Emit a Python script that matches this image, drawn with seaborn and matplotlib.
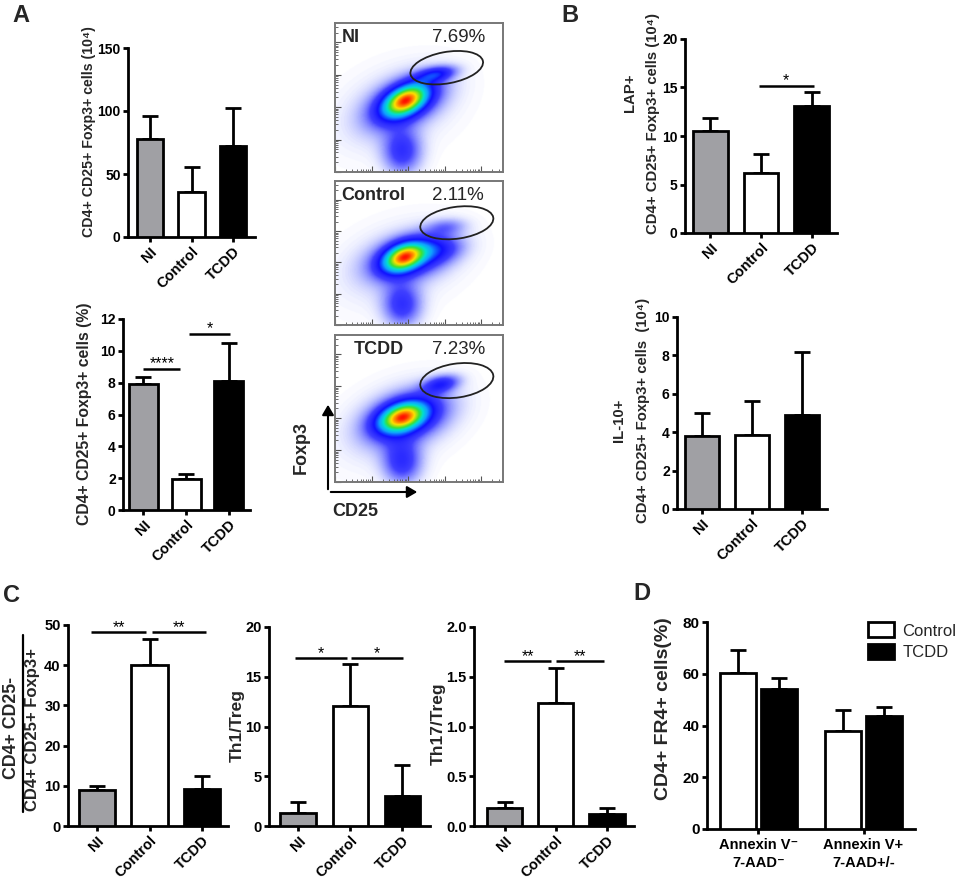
import numpy as np
import pandas as pd
import matplotlib
matplotlib.use("Agg")
import matplotlib.pyplot as plt
import seaborn as sns
from matplotlib.patches import Ellipse
from matplotlib.colors import LinearSegmentedColormap

# ---------------- data ----------------
groups = ["NI", "Control", "TCDD"]
group_colors = ["#a0a0a4", "#ffffff", "#000000"]

treg_count_mean = [77.5, 35.9, 72.4]
treg_count_sem = [18.4, 19.3, 30.3]

treg_pct_mean = [7.92, 1.97, 8.13]
treg_pct_sem = [0.46, 0.31, 2.34]

lap_mean = [10.48, 6.19, 13.13]
lap_sem = [1.38, 1.99, 1.37]

il10_mean = [3.81, 3.84, 4.90]
il10_sem = [1.18, 1.76, 3.27]

ratio_mean = [9.05, 40.0, 9.3]
ratio_sem = [0.83, 6.5, 3.16]

th1_mean = [1.31, 12.06, 3.02]
th1_sem = [1.07, 4.19, 3.14]

th17_mean = [0.18, 1.24, 0.12]
th17_sem = [0.06, 0.345, 0.064]

d_categories = ["Annexin V\u207b\n7-AAD\u207b", "Annexin V+\n7-AAD+/-"]
d_control_mean = [60.4, 38.0]
d_control_sem = [8.7, 8.0]
d_tcdd_mean = [54.2, 43.7]
d_tcdd_sem = [4.0, 3.4]

flow_samples = ["NI", "Control", "TCDD"]
flow_percent = ["7.69%", "2.11%", "7.23%"]
# gaussian components: (cx, cy, sx, sy, rho, weight) in axes units
flow_components = {
    "NI": [(0.42, 0.48, 0.085, 0.07, 0.45, 1.0),
           (0.42, 0.47, 0.14, 0.11, 0.45, 0.35),
           (0.60, 0.655, 0.075, 0.035, 0.4, 0.32),
           (0.40, 0.14, 0.075, 0.10, 0.0, 0.24),
           (0.36, 0.42, 0.24, 0.20, 0.30, 0.05)],
    "Control": [(0.41, 0.47, 0.08, 0.065, 0.35, 1.0),
                (0.45, 0.47, 0.15, 0.10, 0.35, 0.35),
                (0.60, 0.52, 0.10, 0.06, 0.25, 0.18),
                (0.66, 0.68, 0.08, 0.04, 0.2, 0.12),
                (0.40, 0.14, 0.075, 0.10, 0.0, 0.24),
                (0.38, 0.42, 0.25, 0.20, 0.3, 0.05)],
    "TCDD": [(0.40, 0.44, 0.09, 0.065, 0.35, 1.0),
             (0.43, 0.44, 0.15, 0.11, 0.35, 0.38),
             (0.63, 0.665, 0.07, 0.04, 0.35, 0.28),
             (0.40, 0.14, 0.075, 0.10, 0.0, 0.25),
             (0.38, 0.40, 0.24, 0.20, 0.35, 0.05)],
}
flow_gates = {"NI": (0.665, 0.70, 0.44, 0.21, 12),
              "Control": (0.725, 0.71, 0.44, 0.22, 10),
              "TCDD": (0.725, 0.69, 0.44, 0.23, 10)}

# ---------------- style ----------------
sns.set_theme(style="ticks")
plt.rcParams["font.family"] = ["Liberation Sans", "DejaVu Sans"]
plt.rcParams["font.weight"] = "bold"
plt.rcParams["axes.labelweight"] = "bold"

W, H = 957, 885
fig = plt.figure(figsize=(W / 100, H / 100), dpi=100)


def px_axes(l, t, r, b):
    return fig.add_axes([l / W, 1 - b / H, (r - l) / W, (b - t) / H])


def ftext(x, y, s, **kw):
    fig.text(x / W, 1 - y / H, s, **kw)


def style_axes(ax, size=10):
    for s in ["top", "right"]:
        ax.spines[s].set_visible(False)
    for s in ["left", "bottom"]:
        ax.spines[s].set_linewidth(2)
        ax.spines[s].set_color("black")
    ax.tick_params(width=2, length=3.8, pad=1.5, direction="out", labelsize=size,
                   colors="black")
    for lab in ax.get_yticklabels():
        lab.set_fontweight("bold")


def bar_panel(ax, means, sems, xlim, width, ylim, yticks, fmt="{:g}", size=10,
              xsize=10.5):
    df = pd.DataFrame({"group": groups, "value": means})
    sns.barplot(data=df, x="group", y="value", hue="group", palette=group_colors,
                edgecolor="black", linewidth=2, width=width, legend=False,
                errorbar=None, ax=ax, zorder=3)
    ax.errorbar(range(3), means, yerr=[np.zeros(3), sems], fmt="none",
                ecolor="black", elinewidth=2, capsize=6, capthick=2, zorder=2)
    ax.set_xlim(*xlim)
    ax.set_ylim(*ylim)
    ax.set_yticks(yticks)
    ax.set_yticklabels([fmt.format(v) for v in yticks])
    ax.set_xlabel("")
    ax.set_ylabel("")
    ax.set_xticks(range(3))
    ax.set_xticklabels(groups, rotation=45, ha="right", rotation_mode="anchor",
                       fontweight="bold")
    style_axes(ax, size)
    ax.tick_params(axis="x", labelsize=xsize)
    ax.spines["left"].set_bounds(ylim[0], yticks[-1])


def sig(ax, x0, x1, y, label, dy):
    ax.plot([x0, x1], [y, y], color="black", lw=1.8, solid_capstyle="butt",
            clip_on=False)
    ax.text((x0 + x1) / 2, y + dy, label, ha="center", va="bottom",
            fontsize=11.5, fontweight="normal", color="black")


# ---------------- panel A top ----------------
ax = px_axes(128, 48, 255, 237)
bar_panel(ax, treg_count_mean, treg_count_sem, (-0.53, 2.53), 0.63, (0, 150), [0, 50, 100, 150])
ftext(89, 132, "CD4+ CD25+ Foxp3+ cells (10\u2074)", rotation=90, ha="center",
      va="center", fontsize=10.2, fontweight="bold")

# ---------------- panel A bottom ----------------
ax = px_axes(123, 319, 250, 510)
bar_panel(ax, treg_pct_mean, treg_pct_sem, (-0.48, 2.5), 0.68, (0, 12), [0, 2, 4, 6, 8, 10, 12])
sig(ax, 0.0, 0.86, 8.88, "****", -0.15)
sig(ax, 1.08, 2.03, 11.08, "*", -0.15)
ftext(85, 414, "CD4+ CD25+ Foxp3+ cells (%)", rotation=90, ha="center",
      va="center", fontsize=11.3, fontweight="bold")

# ---------------- flow plots ----------------
cmap = LinearSegmentedColormap.from_list(
    "flow", [(0.0, "#ffffff"), (0.015, "#eceeff"), (0.06, "#a8aeff"),
             (0.14, "#4040ff"), (0.26, "#1010ff"), (0.40, "#10a0ff"),
             (0.52, "#00e0d0"), (0.64, "#40e030"), (0.80, "#ffe000"),
             (0.92, "#ff7000"), (1.0, "#ff1000")])
gx = np.linspace(0, 1, 260)
GX, GY = np.meshgrid(gx, gx)
flow_boxes = [(335, 23, 503, 172), (335, 181, 503, 325), (335, 335, 503, 482)]
tick_pos = [(d + np.log10(m)) / 4.6 for d in range(5) for m in range(1, 10)]
tick_pos = [t for t in tick_pos if t <= 1.0]
major_pos = [d / 4.6 for d in range(5)]
for name, pct, box in zip(flow_samples, flow_percent, flow_boxes):
    ax = px_axes(*box)
    dens = np.zeros_like(GX)
    for cx, cy, sx, sy, rho, w in flow_components[name]:
        dx = (GX - cx) / sx
        dy = (GY - cy) / sy
        q = (dx ** 2 - 2 * rho * dx * dy + dy ** 2) / (1 - rho ** 2)
        dens += w * np.exp(-0.5 * q)
    dens = dens / dens.max()
    ax.imshow(dens, origin="lower", extent=(0, 1, 0, 1), cmap=cmap, vmin=0, vmax=1,
              aspect="auto", interpolation="bilinear")
    cx, cy, ew, eh, ang = flow_gates[name]
    ax.add_patch(Ellipse((cx, cy), ew, eh, angle=ang, fill=False, ec="#222222", lw=1.3))
    ax.set_xlim(0, 1)
    ax.set_ylim(0, 1)
    ax.set_xticks(major_pos)
    ax.set_yticks(major_pos)
    ax.set_xticks(tick_pos, minor=True)
    ax.set_yticks(tick_pos, minor=True)
    ax.tick_params(which="both", direction="in", labelbottom=False, labelleft=False,
                   color="#555555")
    ax.tick_params(which="major", length=4, width=0.8)
    ax.tick_params(which="minor", length=2, width=0.6)
    for s in ax.spines.values():
        s.set_color("#777777")
        s.set_linewidth(1.4)
    ax.text(0.04 if name != "TCDD" else 0.11, 0.90, name, transform=ax.transAxes,
            fontsize=13, fontweight="bold", va="center", ha="left")
    ax.text(0.58, 0.90, pct, transform=ax.transAxes, fontsize=13.5,
            fontweight="normal", va="center", ha="left")

# axis arrows
fig.add_artist(matplotlib.patches.FancyArrowPatch(
    (328 / W, 1 - 492 / H), (328 / W, 1 - 402 / H), transform=fig.transFigure,
    arrowstyle="-|>,head_length=6,head_width=3.5", color="black", lw=1.5))
fig.add_artist(matplotlib.patches.FancyArrowPatch(
    (328 / W, 1 - 492 / H), (420 / W, 1 - 492 / H), transform=fig.transFigure,
    arrowstyle="-|>,head_length=6,head_width=3.5", color="black", lw=1.5))
ftext(301, 447, "Foxp3", rotation=90, ha="center", va="center", fontsize=13,
      fontweight="bold")
ftext(355, 511, "CD25", ha="center", va="center", fontsize=13, fontweight="bold")

# ---------------- panel B top ----------------
ax = px_axes(685, 39, 837, 233)
bar_panel(ax, lap_mean, lap_sem, (-0.5, 2.5), 0.69, (0, 20), [0, 5, 10, 15, 20])
sig(ax, 0.96, 2.04, 15.19, "*", -0.3)
ftext(630, 93, "LAP+", rotation=90, ha="center", va="center", fontsize=10.7,
      fontweight="bold")
ftext(653, 123, "CD4+ CD25+ Foxp3+ cells (10\u2074)", rotation=90, ha="center",
      va="center", fontsize=10.7, fontweight="bold")

# ---------------- panel B bottom ----------------
ax = px_axes(677, 317, 827, 509)
bar_panel(ax, il10_mean, il10_sem, (-0.49, 2.5), 0.68, (0, 10), [0, 2, 4, 6, 8, 10])
ftext(619, 420, "IL-10+", rotation=90, ha="center", va="center", fontsize=10.7,
      fontweight="bold")
ftext(643, 410, "CD4+ CD25+ Foxp3+ cells  (10\u2074)", rotation=90, ha="center",
      va="center", fontsize=10.7, fontweight="bold")

# ---------------- panel C ----------------
ax = px_axes(68, 625, 228, 826)
bar_panel(ax, ratio_mean, ratio_sem, (-0.55, 2.49), 0.69, (0, 50), [0, 10, 20, 30, 40, 50],
          size=10.5)
sig(ax, -0.11, 0.94, 48.2, "**", -0.8)
sig(ax, 1.04, 2.07, 48.2, "**", -0.8)
ftext(12, 728, "CD4+ CD25-", rotation=90, ha="center", va="center", fontsize=12.8,
      fontweight="bold")
ftext(33, 730, "CD4+ CD25+ Foxp3+", rotation=90, ha="center", va="center",
      fontsize=12, fontweight="bold")
fig.add_artist(matplotlib.lines.Line2D([23 / W, 23 / W], [1 - 635 / H, 1 - 812 / H],
                                       color="black", lw=1.6))

ax = px_axes(269, 627, 430, 826)
bar_panel(ax, th1_mean, th1_sem, (-0.56, 2.53), 0.68, (0, 20), [0, 5, 10, 15, 20],
          size=10.5)
sig(ax, -0.06, 0.94, 16.9, "*", -0.35)
sig(ax, 1.02, 2.02, 16.9, "*", -0.35)
ftext(237, 725, "Th1/Treg", rotation=90, ha="center", va="center", fontsize=12.5,
      fontweight="bold")

ax = px_axes(474, 627, 634, 826)
bar_panel(ax, th17_mean, th17_sem, (-0.6, 2.53), 0.69, (0, 2.0),
          [0.0, 0.5, 1.0, 1.5, 2.0], fmt="{:.1f}", size=10.5)
sig(ax, -0.01, 0.91, 1.66, "**", -0.035)
sig(ax, 1.01, 1.94, 1.66, "**", -0.035)
ftext(438, 724, "Th17/Treg", rotation=90, ha="center", va="center", fontsize=12.5,
      fontweight="bold")

# ---------------- panel D ----------------
ax = px_axes(707, 622, 915, 829)
dd = pd.DataFrame({
    "cat": d_categories * 2,
    "grp": ["Control"] * 2 + ["TCDD"] * 2,
    "val": d_control_mean + d_tcdd_mean,
})
sns.barplot(data=dd, x="cat", y="val", hue="grp", palette=["#ffffff", "#000000"],
            edgecolor="black", linewidth=2, width=0.78, gap=0.1, errorbar=None,
            ax=ax, zorder=3)
off = 0.78 / 4
ax.errorbar(np.arange(2) - off, d_control_mean, yerr=[np.zeros(2), d_control_sem],
            fmt="none", ecolor="black", elinewidth=2, capsize=6, capthick=2, zorder=2)
ax.errorbar(np.arange(2) + off, d_tcdd_mean, yerr=[np.zeros(2), d_tcdd_sem],
            fmt="none", ecolor="black", elinewidth=2, capsize=6, capthick=2, zorder=2)
ax.set_xlim(-0.49, 1.49)
ax.set_ylim(0, 80)
ax.set_yticks([0, 20, 40, 60, 80])
ax.set_xlabel("")
ax.set_ylabel("")
ax.set_xticks([0, 1])
ax.set_xticklabels(d_categories, fontsize=10.5, fontweight="bold", linespacing=1.3)
style_axes(ax, 11)
ax.tick_params(axis="x", labelsize=10.5, pad=3)
leg = ax.legend(loc="upper left", bbox_to_anchor=(0.74, 1.03), frameon=False,
                fontsize=12, handlelength=1.6, handleheight=1.0, handletextpad=0.5,
                labelspacing=0.3, borderaxespad=0)
for t in leg.get_texts():
    t.set_fontweight("normal")
ftext(664, 709, "CD4+ FR4+ cells(%)", rotation=90, ha="center", va="center",
      fontsize=14, fontweight="bold")

# ---------------- panel letters ----------------
for letter, (x, y) in zip("ABCD", [(12, 4), (561, 4), (3, 584), (633, 582)]):
    ftext(x, y, letter, ha="left", va="top", fontsize=17, fontweight="bold")

fig.savefig("out.png", dpi=100)
